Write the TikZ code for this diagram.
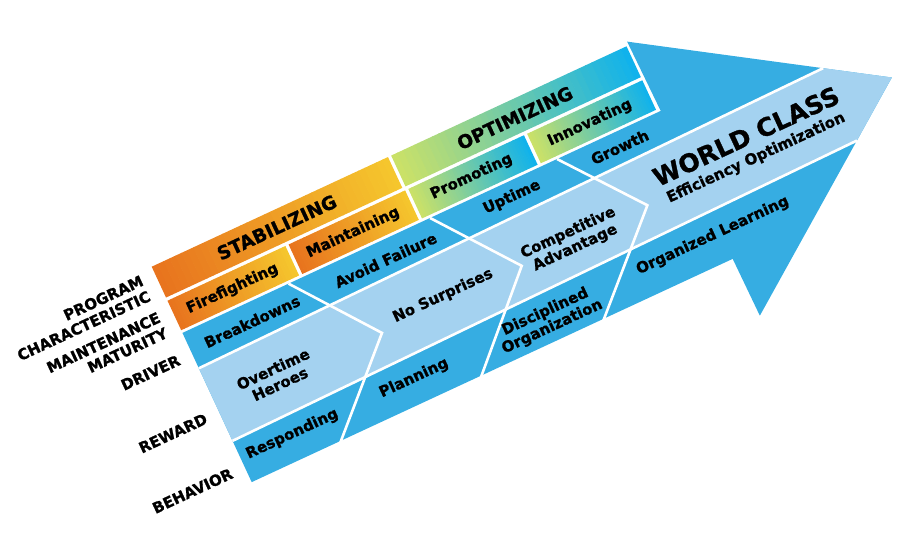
\documentclass[tikz,border=0pt]{standalone}
\usepackage{fontspec}
\setmainfont{DejaVu Sans}
\newfontfamily\heavy{DejaVu Sans Bold}[FakeBold=1.2]
\definecolor{dblue}{RGB}{54,173,226}
\definecolor{lblue}{RGB}{164,210,240}
\definecolor{orL}{RGB}{232,116,30}
\definecolor{orR}{RGB}{245,198,45}
\definecolor{grL}{RGB}{202,225,104}
\definecolor{cyR}{RGB}{16,178,236}
\tikzset{
  sep/.style={draw=white, line width=2.6pt, line join=miter},
  txt/.style={font=\heavy\fontsize{15}{16.5}\selectfont, align=center, inner sep=0pt, text=black},
  bigtxt/.style={font=\heavy\fontsize{18.5}{20}\selectfont, inner sep=0pt, text=black},
  lab/.style={font=\heavy\fontsize{15}{17}\selectfont, align=right, anchor=east, inner sep=0pt, text=black},
}
\newcommand{\gradcell}[6]{%
  \foreach \i in {0,...,39}{%
    \pgfmathsetmacro{\xa}{#1+(#3-#1)*\i/40}%
    \pgfmathsetmacro{\xb}{min(#3,#1+(#3-#1)*(\i+1)/40+0.5)}%
    \pgfmathtruncatemacro{\cmix}{100*\i/39}%
    \fill[#6!\cmix!#5] (\xa,-#2) rectangle (\xb,-#4);
  }}
\begin{document}
\begin{tikzpicture}[x=1pt,y=1pt]
\useasboundingbox (0,0) rectangle (913,-536);
\begin{scope}[shift={(151.7,-266.7)}, rotate=24.9, transform shape]
  % top two rows
  \gradcell{0}{0}{260.5}{34}{orL}{orR}
  \gradcell{264}{0}{523.5}{34}{grL}{cyR}
  \gradcell{0}{37.5}{130}{70}{orL}{orR}
  \gradcell{133.5}{37.5}{262}{70}{orL}{orR}
  \gradcell{265.5}{37.5}{393}{70}{grL}{cyR}
  \gradcell{396.5}{37.5}{523.5}{70}{grL}{cyR}
  % arrow body
  \fill[dblue] (0,-73) -- (527.3,-73) -- (526,4) -- (751,-140) -- (531,-300.5)
     -- (530.3,-237.5) -- (0,-237.5) -- cycle;
  % light band
  \fill[lblue] (0,-112) -- (692.6,-102.6) -- (751,-140) -- (692.8,-182.5) -- (0,-192) -- cycle;
  \draw[sep] (0,-112) -- (692.6,-102.6);
  \draw[sep] (0,-192) -- (692.8,-182.5);
  \draw[sep] (117,-73) -- (181,-157) -- (97,-239);
  \draw[sep] (273,-73) -- (336,-155) -- (252,-239);
  \draw[sep] (413,-73) -- (475.5,-153) -- (387,-239);
  % texts
  \node[bigtxt] (stab) at (130,-17) {STABILIZING};
  \node[bigtxt] (opt) at (392,-18) {OPTIMIZING};
  \node[txt] (fire) at (64,-54) {Firefighting};
  \node[txt] (maint) at (197,-54) {Maintaining};
  \node[txt] (prom) at (328,-53) {Promoting};
  \node[txt] (innov) at (458,-54) {Innovating};
  \node[txt] (brk) at (68,-92) {Breakdowns};
  \node[txt] (avoid) at (215,-92.5) {Avoid Failure};
  \node[txt] (upt) at (356,-88.5) {Uptime};
  \node[txt] (grow) at (475,-88.5) {Growth};
  \node[txt] (over) at (67,-152) {Overtime\\Heroes};
  \node[txt] (nosur) at (252,-149) {No Surprises};
  \node[txt] (comp) at (392,-153) {Competitive\\Advantage};
  \node[font=\heavy\fontsize{25}{25}\selectfont, anchor=base, inner sep=0pt] (world) at (594,-141) {WORLD CLASS};
  \node[txt, anchor=base] (eff) at (594,-160) {Efficiency Optimization};
  \node[txt] (resp) at (57,-211) {Responding};
  \node[txt] (plan) at (191,-211.5) {Planning};
  \node[txt] (disc) at (338,-215) {Disciplined\\Organization};
  \node[txt] (orgl) at (522,-208) {Organized Learning};
  % row labels
  \node[lab] (l1) at (-14,-16.5) {PROGRAM\\CHARACTERISTIC};
  \node[lab] (l2) at (-14,-57) {MAINTENANCE\\MATURITY};
  \node[lab] (l3) at (-14,-95.6) {DRIVER};
  \node[lab] (l4) at (-14,-160) {REWARD};
  \node[lab] (l5) at (-14,-220.5) {BEHAVIOR};
\end{scope}
\end{tikzpicture}
\end{document}
